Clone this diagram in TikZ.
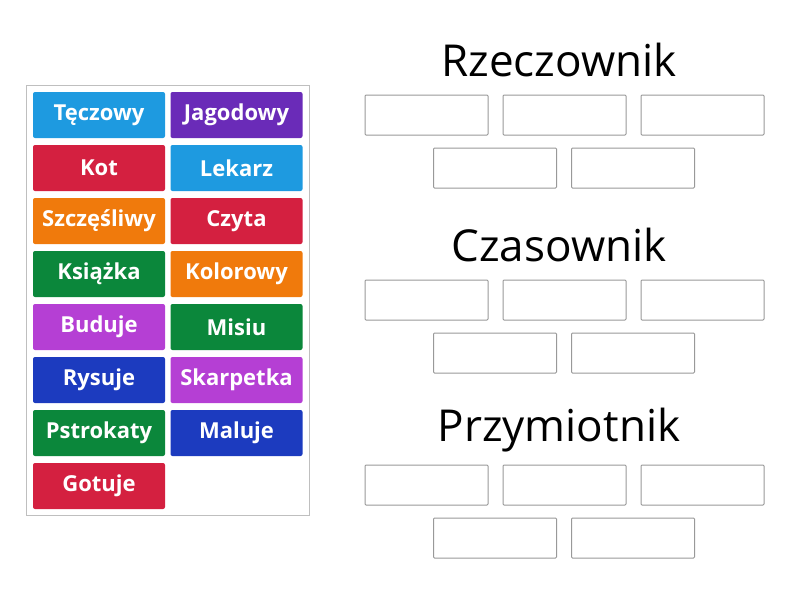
\documentclass[tikz,border=0pt]{standalone}
\usepackage{fontspec}
\setmainfont{Open Sans}
\usetikzlibrary{positioning}
\definecolor{tblue}{HTML}{1E9AE0}
\definecolor{tpurple}{HTML}{6A2BB8}
\definecolor{tred}{HTML}{D42040}
\definecolor{torange}{HTML}{F07A0C}
\definecolor{tgreen}{HTML}{0B873B}
\definecolor{tmagenta}{HTML}{B53FD4}
\definecolor{tnavy}{HTML}{1C3BBF}
\tikzset{
	tile/.style={draw=none, fill=#1, rounded corners=2pt,
		minimum width=132pt, minimum height=46pt, inner sep=0pt,
		text=white, font=\fontsize{22}{22}\selectfont\bfseries},
	slot/.style={draw=black!40, line width=1pt, fill=white, rounded corners=1pt,
		minimum width=123pt, minimum height=40pt, inner sep=0pt},
	heading/.style={font=\fontsize{44}{44}\selectfont, inner sep=0pt}
}
\begin{document}
\begin{tikzpicture}[x=1pt,y=-1pt]
	\useasboundingbox (0,0) rectangle (800,600);
	% word bank
	\node [draw=black!25, line width=1pt, minimum width=283pt, minimum height=430pt,
		inner sep=0pt] (bank) at (167.5,300) {};
	% tiles
	\foreach \name/\word/\col/\row/\clr in {
		t1/Tęczowy/0/0/tblue, t2/Jagodowy/1/0/tpurple,
		t3/Kot/0/1/tred, t4/Lekarz/1/1/tblue,
		t5/Szczęśliwy/0/2/torange, t6/Czyta/1/2/tred,
		t7/Książka/0/3/tgreen, t8/Kolorowy/1/3/torange,
		t9/Buduje/0/4/tmagenta, t10/Misiu/1/4/tgreen,
		t11/Rysuje/0/5/tnavy, t12/Skarpetka/1/5/tmagenta,
		t13/Pstrokaty/0/6/tgreen, t14/Maluje/1/6/tnavy,
		t15/Gotuje/0/7/tred}
		\node [tile=\clr] (\name) at (99+137.5*\col, 115+53*\row) {\word};
	% categories
	\foreach \cat/\title/\y in {rz/Rzeczownik/0, cz/Czasownik/185, pr/Przymiotnik/370} {
		\node [heading] (\cat) at (559, 60+\y) {\title};
		\node [slot] (\cat1) at (426.5, 115+\y) {};
		\node [slot, right=14pt of \cat1] (\cat2) {};
		\node [slot, right=14pt of \cat2] (\cat3) {};
		\node [slot] (\cat4) at (495, 168+\y) {};
		\node [slot, right=14pt of \cat4] (\cat5) {};
	}
\end{tikzpicture}
\end{document}
